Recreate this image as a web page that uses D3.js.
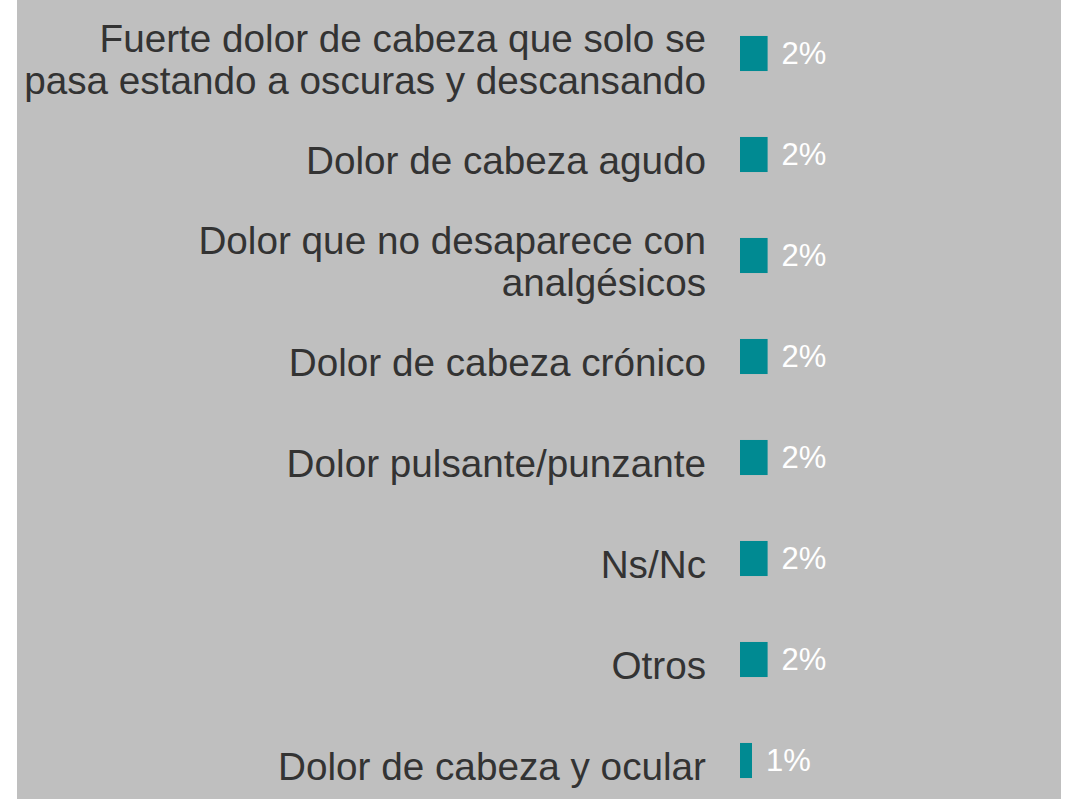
<!DOCTYPE html>
<html>
<head>
<meta charset="utf-8">
<script src="https://cdn.jsdelivr.net/npm/d3@7/dist/d3.min.js"></script>
<style>
  html, body { margin: 0; padding: 0; background: #ffffff; }
  svg { display: block; }
  .label { font-family: "Liberation Sans", Arial, sans-serif; font-size: 38.7px; fill: #333333; }
  .value { font-family: "Liberation Sans", Arial, sans-serif; font-size: 31px; fill: #ffffff; }
</style>
</head>
<body>
<div class="chart"></div>
<script>
// Data
var categories = [
  "Fuerte dolor de cabeza que solo se\npasa estando a oscuras y descansando",
  "Dolor de cabeza agudo",
  "Dolor que no desaparece con\nanalgésicos",
  "Dolor de cabeza crónico",
  "Dolor pulsante/punzante",
  "Ns/Nc",
  "Otros",
  "Dolor de cabeza y ocular"
];
// percentages (labels show rounded values)
var values = [2.3, 2.3, 2.3, 2.3, 2.3, 2.3, 2.3, 1.0];

var svgWidth = 1066;
var svgHeight = 799;

var svg = d3.select(".chart")
  .append("svg")
  .attr("width", svgWidth)
  .attr("height", svgHeight);

// grey panel
svg.append("rect")
  .attr("x", 17)
  .attr("y", 0)
  .attr("width", 1061 - 17)
  .attr("height", svgHeight)
  .attr("fill", "#bfbfbf");

var rows = d3.range(categories.length);

// band scale for the rows
var yScale = d3.scaleBand()
  .domain(rows)
  .range([3, 811])
  .paddingInner(0.653)
  .paddingOuter(0.3265);

var barLeft = 740;
var xScale = d3.scaleLinear().domain([0, 10]).range([barLeft, barLeft + 120]);

var chart = svg.append("g");

// bars
chart.selectAll("rect.bar")
  .data(values)
  .enter()
  .append("rect")
  .attr("class", "bar")
  .attr("x", xScale(0))
  .attr("y", function(d, i) { return yScale(i); })
  .attr("width", function(d) { return xScale(d) - xScale(0); })
  .attr("height", yScale.bandwidth())
  .attr("fill", "#008a92");

// value labels
chart.selectAll("text.value")
  .data(values)
  .enter()
  .append("text")
  .attr("class", "value")
  .attr("x", function(d) { return xScale(d) + 14; })
  .attr("y", function(d, i) { return yScale(i) + yScale.bandwidth() / 2 + 10.5; })
  .text(function(d) { return Math.round(d) + "%"; });

// category labels, right aligned, possibly on two lines
var lineHeight = 42;
chart.selectAll("text.label")
  .data(categories)
  .enter()
  .append("text")
  .attr("class", "label")
  .attr("text-anchor", "end")
  .each(function(d, i) {
    var lines = d.split("\n");
    var center = yScale(i) + yScale.bandwidth() / 2 + 5;
    var first = center + 14 - (lines.length - 1) * lineHeight / 2;
    var t = d3.select(this);
    lines.forEach(function(line, k) {
      t.append("tspan")
        .attr("x", 706)
        .attr("y", first + k * lineHeight)
        .text(line);
    });
  });
</script>
</body>
</html>
